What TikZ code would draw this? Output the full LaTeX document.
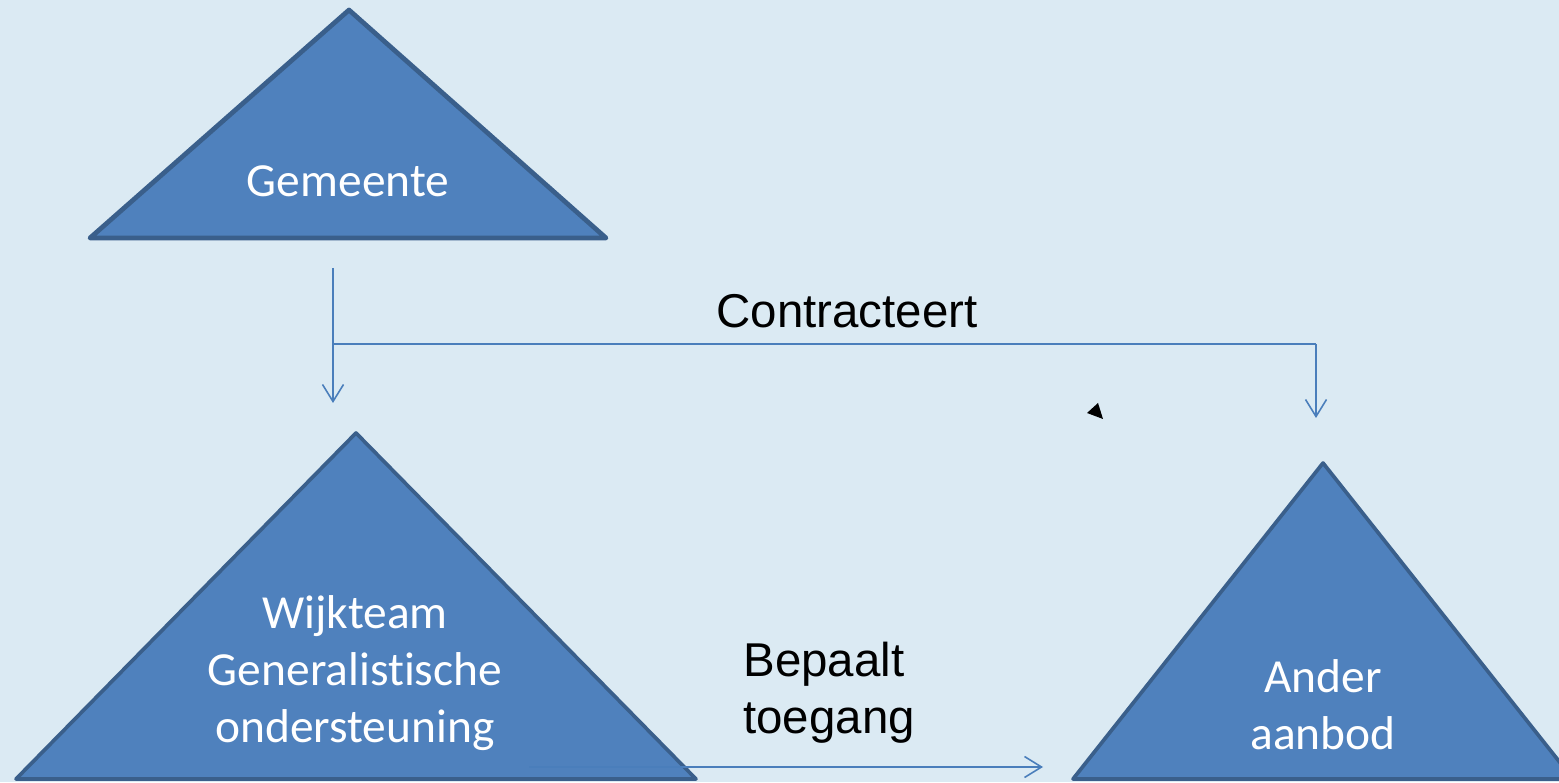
\documentclass[tikz,border=0pt]{standalone}
\usepackage{fontspec}
\usetikzlibrary{arrows.meta}
\newfontfamily\calib[Ligatures=NoCommon]{Carlito}
\newfontfamily\arial{Liberation Sans}
\definecolor{achter}{RGB}{219,234,243}
\definecolor{vlak}{RGB}{79,129,189}
\definecolor{rand}{RGB}{58,95,139}
\definecolor{lijn}{RGB}{74,126,187}

\begin{document}
\begin{tikzpicture}[
    driehoek/.style={fill=vlak, draw=rand, line width=2.1pt, line join=round},
    wit/.style={text=white, font=\calib\fontsize{27}{32.5}\selectfont, align=center, inner sep=0pt},
    zwart/.style={text=black, font=\arial\fontsize{27}{32.5}\selectfont, align=left, inner sep=0pt},
    pijl/.style={draw=lijn, line width=0.9pt, -{Straight Barb[length=0.34cm, width=0.42cm, line width=0.9pt]}}
  ]
        % background
        \fill[achter] (0,0) rectangle (31.18,15.64);
        \useasboundingbox (0,0) rectangle (31.18,15.64);
        \clip (0,0) rectangle (31.18,15.64);

        % draw the triangles
        \filldraw[driehoek, line width=2.7pt] (6.98,15.44) -- (12.12,10.88) -- (1.80,10.88) -- cycle;
        \filldraw[driehoek] (7.12,6.98) -- (13.92,0.06) -- (0.32,0.06) -- cycle;
        \filldraw[driehoek] (26.46,6.38) -- (31.46,0.06) -- (21.46,0.06) -- cycle;

        % names
        \node[wit, anchor=base] (gem) at (6.96,11.70) {Gemeente};
        \node[wit] (wijk) at (7.10,2.18) {Wijkteam\\Generalistische\\ondersteuning};
        \node[wit] (ander) at (26.46,1.54) {Ander\\aanbod};

        % labels
        \node[zwart, anchor=base] (contr) at (16.94,9.08) {Contracteert};
        \node[zwart, anchor=west] (bepaalt) at (14.86,1.78) {Bepaalt\\toegang};

        % ends of the lines
        \coordinate (g1) at (6.66,10.28);
        \coordinate (g2) at (6.66,7.58);
        \coordinate (s) at (6.66,8.76);
        \coordinate (h) at (26.32,8.76);
        \coordinate (a1) at (26.32,7.28);
        \coordinate (w1) at (10.58,0.30);
        \coordinate (w2) at (20.86,0.30);

        % map
        \draw[pijl] (g1) -- (g2);
        \draw[lijn, line width=1.4pt] (s) -- (h);
        \draw[pijl] (h) -- (a1);
        \draw[pijl, line width=1.2pt] (w1) -- (w2);

        % loose tip
        \fill[black] (21.74,7.38) -- (21.96,7.58) -- (22.06,7.26) -- cycle;
    \end{tikzpicture}
\end{document}
